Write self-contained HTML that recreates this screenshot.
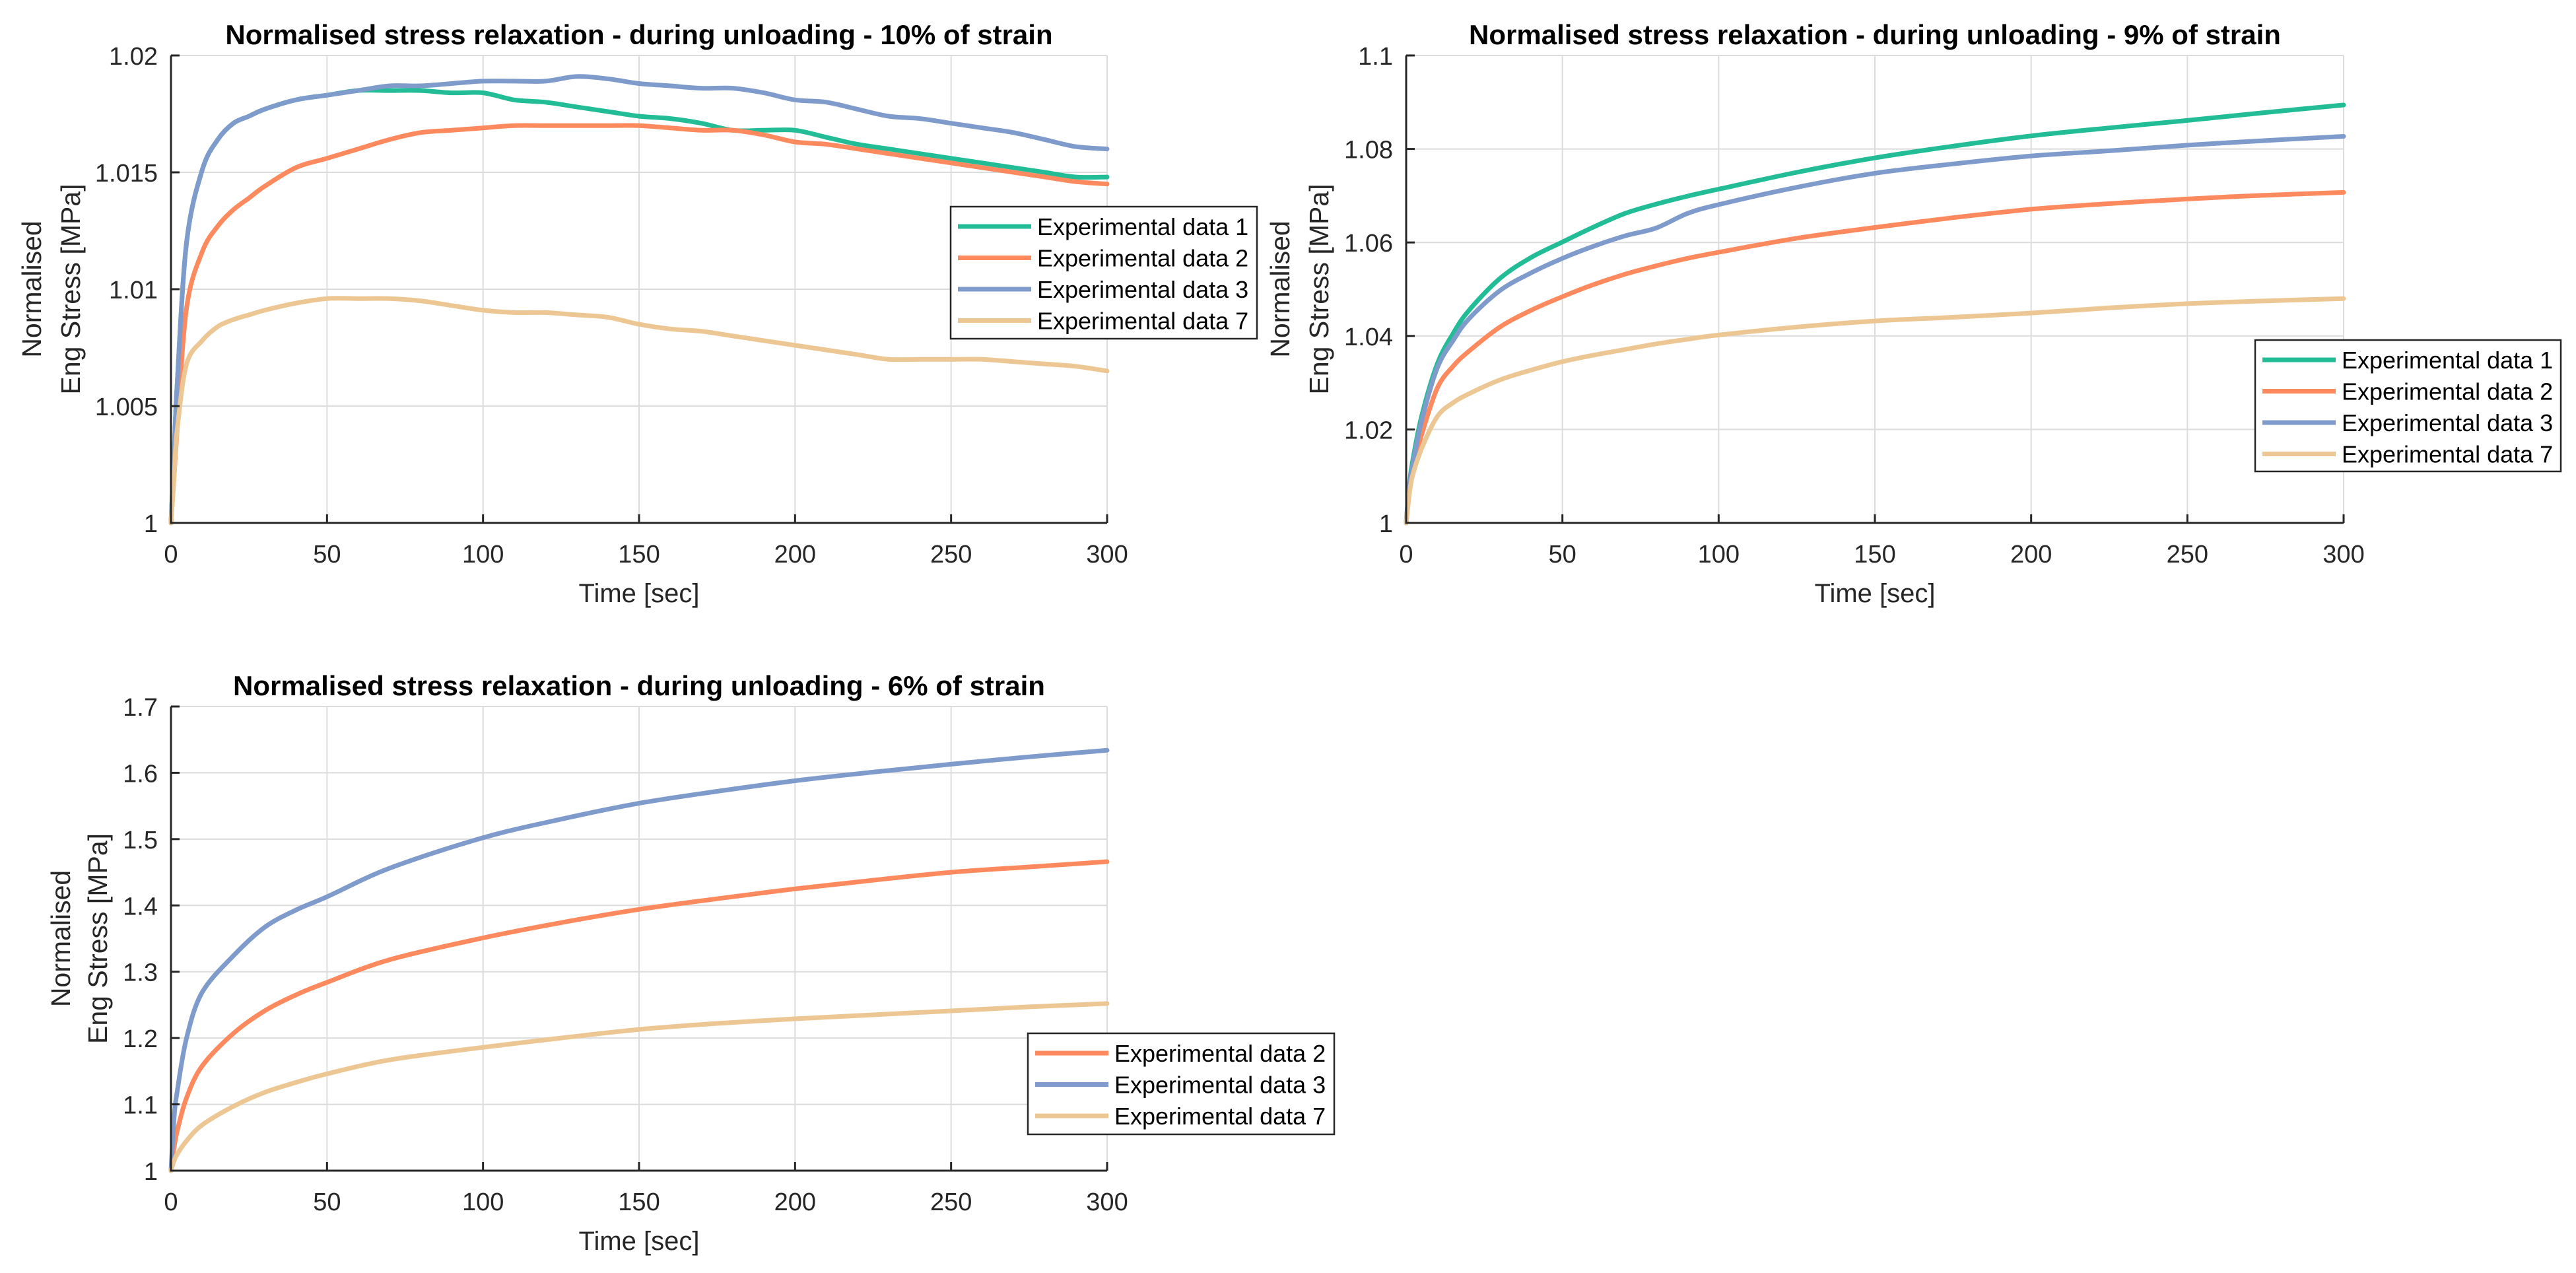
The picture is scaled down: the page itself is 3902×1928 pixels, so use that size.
<!DOCTYPE html>
<html><head><meta charset="utf-8"><style>
html,body{margin:0;padding:0;background:#fff;}
svg{display:block;font-family:"Liberation Sans",Arial,sans-serif;}
</style></head><body>
<svg id="fig" width="3902" height="1928" viewBox="0 0 3902 1928" xmlns="http://www.w3.org/2000/svg"></svg>
<script>
// ---- Chart 1: 10% strain ----
const c1Times = [0,1,2,5,10,15,20,25,30,40,50,60,70,80,90,100,110,120,130,140,150,160,170,180,190,200,210,220,230,240,250,260,270,280,290,300];
const c1Data1 = [1.0,1.003,1.006,1.012,1.0151,1.0164,1.0171,1.0174,1.0177,1.0181,1.0183,1.0185,1.0185,1.0185,1.0184,1.0184,1.0181,1.0180,1.0178,1.0176,1.0174,1.0173,1.0171,1.0168,1.0168,1.0168,1.0165,1.0162,1.0160,1.0158,1.0156,1.0154,1.0152,1.0150,1.0148,1.0148];
const c1Data2 = [1.0,1.002,1.004,1.0092,1.0116,1.0127,1.0134,1.0139,1.0144,1.0152,1.0156,1.0160,1.0164,1.0167,1.0168,1.0169,1.0170,1.0170,1.0170,1.0170,1.0170,1.0169,1.0168,1.0168,1.0166,1.0163,1.0162,1.0160,1.0158,1.0156,1.0154,1.0152,1.0150,1.0148,1.0146,1.0145];
const c1Data3 = [1.0,1.003,1.006,1.012,1.0151,1.0164,1.0171,1.0174,1.0177,1.0181,1.0183,1.0185,1.0187,1.0187,1.0188,1.0189,1.0189,1.0189,1.0191,1.0190,1.0188,1.0187,1.0186,1.0186,1.0184,1.0181,1.0180,1.0177,1.0174,1.0173,1.0171,1.0169,1.0167,1.0164,1.0161,1.0160];
const c1Data7 = [1.0,1.002,1.004,1.0068,1.0078,1.0084,1.0087,1.0089,1.0091,1.0094,1.0096,1.0096,1.0096,1.0095,1.0093,1.0091,1.0090,1.0090,1.0089,1.0088,1.0085,1.0083,1.0082,1.0080,1.0078,1.0076,1.0074,1.0072,1.0070,1.0070,1.0070,1.0070,1.0069,1.0068,1.0067,1.0065];
const c1YTicks = [1,1.005,1.01,1.015,1.02];
const c1YLabels = ["1","1.005","1.01","1.015","1.02"];
// ---- Chart 2: 9% strain ----
const c2Times = [0,1,2,5,10,15,20,30,40,50,60,70,80,90,100,125,150,175,200,225,250,275,300];
const c2Data1 = [1.0,1.008,1.013,1.023,1.0341,1.0405,1.0454,1.0523,1.0568,1.0601,1.0633,1.0662,1.0682,1.0699,1.0714,1.0750,1.0781,1.0806,1.0828,1.0845,1.0861,1.0878,1.0894];
const c2Data2 = [1.0,1.007,1.011,1.019,1.0289,1.0335,1.0367,1.0419,1.0455,1.0484,1.0510,1.0532,1.0550,1.0566,1.0579,1.0609,1.0632,1.0653,1.0671,1.0683,1.0693,1.0701,1.0707];
const c2Data3 = [1.0,1.008,1.012,1.022,1.0332,1.0390,1.0436,1.0497,1.0535,1.0566,1.0592,1.0614,1.0631,1.0662,1.0681,1.0718,1.0748,1.0768,1.0785,1.0796,1.0808,1.0818,1.0827];
const c2Data7 = [1.0,1.006,1.010,1.016,1.0228,1.0257,1.0276,1.0306,1.0327,1.0345,1.0359,1.0371,1.0383,1.0393,1.0402,1.0419,1.0432,1.0440,1.0449,1.0460,1.0469,1.0475,1.0480];
const c2YTicks = [1,1.02,1.04,1.06,1.08,1.1];
const c2YLabels = ["1","1.02","1.04","1.06","1.08","1.1"];
// ---- Chart 3: 6% strain ----
const c3Times = [0,1,2,5,10,20,30,40,50,70,100,125,150,175,200,225,250,275,300];
const c3Data2 = [1.0,1.035,1.06,1.11,1.158,1.207,1.241,1.265,1.284,1.318,1.351,1.374,1.394,1.410,1.425,1.438,1.450,1.458,1.466];
const c3Data3 = [1.0,1.08,1.12,1.20,1.269,1.324,1.367,1.393,1.413,1.456,1.502,1.530,1.554,1.572,1.588,1.601,1.613,1.624,1.634];
const c3Data7 = [1.0,1.015,1.025,1.045,1.069,1.097,1.118,1.133,1.146,1.167,1.186,1.200,1.213,1.222,1.229,1.235,1.241,1.247,1.252];
const c3YTicks = [1,1.1,1.2,1.3,1.4,1.5,1.6,1.7];
const c3YLabels = ["1","1.1","1.2","1.3","1.4","1.5","1.6","1.7"];
const xTicks = [0,50,100,150,200,250,300];
const xLabels = ["0","50","100","150","200","250","300"];

const NS="http://www.w3.org/2000/svg";
const svg=document.getElementById('fig');
const COL={d1:"#22bd97",d2:"#fd8a5e",d3:"#7f9bcb",d7:"#ecc794"};
function mk(tag,attrs,parent){const e=document.createElementNS(NS,tag);for(const k in attrs)e.setAttribute(k,attrs[k]);(parent||svg).appendChild(e);return e;}
function smoothPath(P){
  let d=`M${P[0][0].toFixed(1)},${P[0][1].toFixed(1)}`;
  for(let i=0;i<P.length-1;i++){
    const p0=P[Math.max(0,i-1)],p1=P[i],p2=P[i+1],p3=P[Math.min(P.length-1,i+2)];
    const c1x=p1[0]+(p2[0]-p0[0])/6,c1y=p1[1]+(p2[1]-p0[1])/6;
    const c2x=p2[0]-(p3[0]-p1[0])/6,c2y=p2[1]-(p3[1]-p1[1])/6;
    d+=`C${c1x.toFixed(1)},${c1y.toFixed(1)} ${c2x.toFixed(1)},${c2y.toFixed(1)} ${p2[0].toFixed(1)},${p2[1].toFixed(1)}`;
  }
  return d;
}

function chart(id,box,title,yTicks,yLabels,times,series,legend,ylab){
  const g=mk('g',{});
  
  
  const ymin=yTicks[0],ymax=yTicks[yTicks.length-1];
  const X=t=>box.l+(t-0)/(300-0)*(box.r-box.l);
  const Y=v=>box.b-(v-ymin)/(ymax-ymin)*(box.b-box.t);
  xTicks.forEach(t=>{const l=mk('line',{x1:X(t),x2:X(t),y1:box.t,y2:box.b,stroke:"#dcdcdc","stroke-width":2},g);
    
    });
  yTicks.forEach(v=>{const l=mk('line',{x1:box.l,x2:box.r,y1:Y(v),y2:Y(v),stroke:"#dcdcdc","stroke-width":2},g);
    
    });
  series.forEach(s=>{
    const P=times.map((t,i)=>[X(t),Y(s.v[i])]);
    const p=mk('path',{d:smoothPath(P),fill:"none",stroke:s.c,"stroke-width":7,"stroke-linejoin":"round","stroke-linecap":"round"},g);
    
    
  });
  const ax=mk('path',{d:`M${box.l},${box.t}V${box.b}H${box.r}`,fill:"none",stroke:"#262626","stroke-width":3},g);
  
  
  xTicks.forEach((t,i)=>{
    mk('line',{x1:X(t),x2:X(t),y1:box.b,y2:box.b-13,stroke:"#262626","stroke-width":3},g);
    const tx=mk('text',{x:X(t),y:box.b+60,"font-size":38,"text-anchor":"middle",fill:"#262626"},g);
    tx.textContent=xLabels[i];
    
    
  });
  yTicks.forEach((v,i)=>{
    mk('line',{x1:box.l,x2:box.l+13,y1:Y(v),y2:Y(v),stroke:"#262626","stroke-width":3},g);
    const tx=mk('text',{x:box.l-20,y:Y(v)+14,"font-size":38,"text-anchor":"end",fill:"#262626"},g);
    tx.textContent=yLabels[i];
    
    
  });
  const cx=(box.l+box.r)/2, cy=(box.t+box.b)/2;
  const tt=mk('text',{x:cx,y:box.t-17,"font-size":42,"font-weight":"bold","text-anchor":"middle",fill:"#000"},g);
  tt.textContent=title;
  
  
  const xt=mk('text',{x:cx,y:box.b+120,"font-size":40,"text-anchor":"middle",fill:"#262626"},g);
  xt.textContent="Time [sec]";
  
  
  const y1=mk('text',{x:0,y:0,"font-size":41,"text-anchor":"middle",fill:"#262626",transform:`translate(${ylab[0]+15},${cy}) rotate(-90)`},g);
  y1.textContent="Normalised";
  
  
  const y2=mk('text',{x:0,y:0,"font-size":41,"text-anchor":"middle",fill:"#262626",transform:`translate(${ylab[1]+15},${cy}) rotate(-90)`},g);
  y2.textContent="Eng Stress [MPa]";
  
  
  const lg=mk('g',{},g);
  
  
  mk('rect',{x:legend.x,y:legend.y,width:legend.w,height:legend.h,fill:"#fff",stroke:"#262626","stroke-width":2.5},lg);
  legend.items.forEach((it,i)=>{
    const ry=legend.y+30+i*47.5;
    const e=mk('g',{},lg);
    
    
    mk('line',{x1:legend.x+11,x2:legend.x+122,y1:ry,y2:ry,stroke:it.c,"stroke-width":7},e);
    const tx=mk('text',{x:legend.x+131,y:ry+13,"font-size":36,fill:"#000"},e);
    tx.textContent=it.label;
  });
}

chart('chart-10pct',{l:259,r:1677,t:84,b:792},"Normalised stress relaxation - during unloading - 10% of strain",c1YTicks,c1YLabels,c1Times,
 [{name:'series-data-1',c:COL.d1,v:c1Data1},{name:'series-data-2',c:COL.d2,v:c1Data2},{name:'series-data-3',c:COL.d3,v:c1Data3},{name:'series-data-7',c:COL.d7,v:c1Data7}],
 {x:1440,y:313,w:464,h:200,items:[{c:COL.d1,label:"Experimental data 1"},{c:COL.d2,label:"Experimental data 2"},{c:COL.d3,label:"Experimental data 3"},{c:COL.d7,label:"Experimental data 7"}]},[47,106]);

chart('chart-9pct',{l:2130,r:3550,t:84,b:792},"Normalised stress relaxation - during unloading - 9% of strain",c2YTicks,c2YLabels,c2Times,
 [{name:'series-data-1',c:COL.d1,v:c2Data1},{name:'series-data-2',c:COL.d2,v:c2Data2},{name:'series-data-3',c:COL.d3,v:c2Data3},{name:'series-data-7',c:COL.d7,v:c2Data7}],
 {x:3416,y:515,w:463,h:199,items:[{c:COL.d1,label:"Experimental data 1"},{c:COL.d2,label:"Experimental data 2"},{c:COL.d3,label:"Experimental data 3"},{c:COL.d7,label:"Experimental data 7"}]},[1938,1997]);

chart('chart-6pct',{l:259,r:1677,t:1070,b:1773},"Normalised stress relaxation - during unloading - 6% of strain",c3YTicks,c3YLabels,c3Times,
 [{name:'series-data-2',c:COL.d2,v:c3Data2},{name:'series-data-3',c:COL.d3,v:c3Data3},{name:'series-data-7',c:COL.d7,v:c3Data7}],
 {x:1557,y:1565,w:464,h:153,items:[{c:COL.d2,label:"Experimental data 2"},{c:COL.d3,label:"Experimental data 3"},{c:COL.d7,label:"Experimental data 7"}]},[91,147]);
</script>
</body></html>
